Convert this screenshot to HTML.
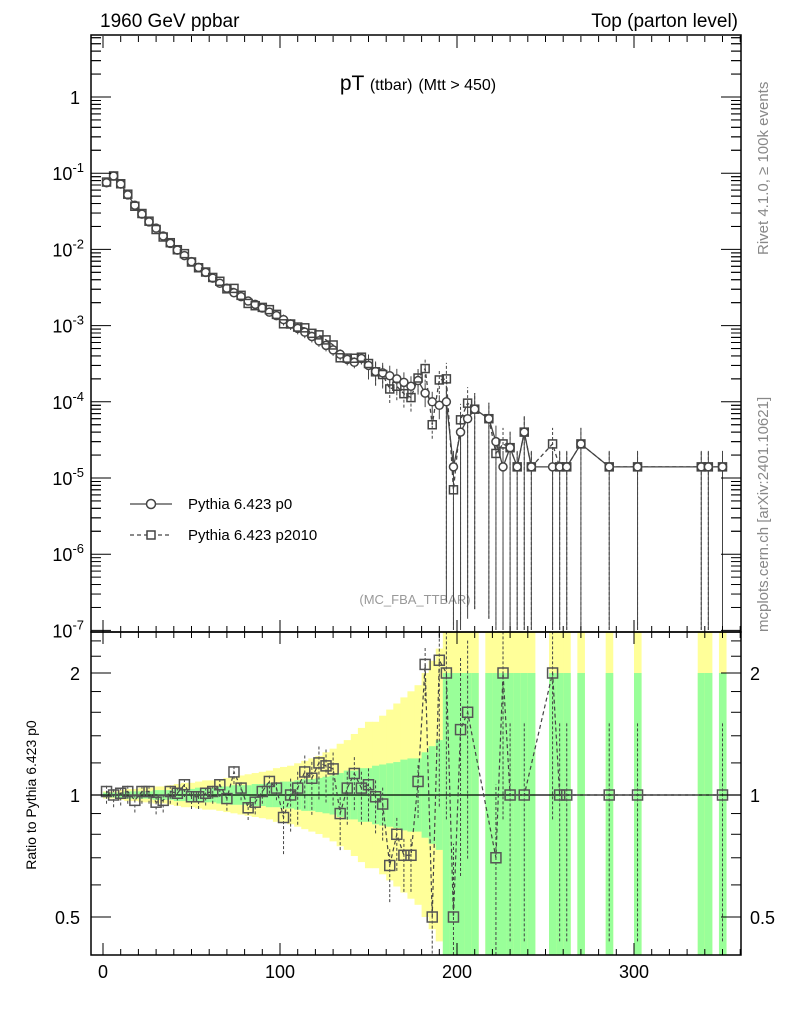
<!DOCTYPE html>
<html><head><meta charset="utf-8"><style>
body{margin:0;background:#fff;font-family:"Liberation Sans",sans-serif}
svg text{font-family:"Liberation Sans",sans-serif}
</style></head><body>
<svg id="c" width="786" height="1024" xmlns="http://www.w3.org/2000/svg">
<text x="100" y="27" font-size="19">1960 GeV ppbar</text>
<text x="738" y="27" font-size="19" text-anchor="end">Top (parton level)</text>
<text x="418" y="90" font-size="21" text-anchor="middle">pT <tspan font-size="16">(ttbar)</tspan> <tspan font-size="16">(Mtt &gt; 450)</tspan></text>
<text transform="translate(768,255) rotate(-90)" font-size="15" fill="#888">Rivet 4.1.0, ≥ 100k events</text>
<text transform="translate(768,632) rotate(-90)" font-size="15" fill="#888">mcplots.cern.ch [arXiv:2401.10621]</text>
<text transform="translate(36,795) rotate(-90)" font-size="14" text-anchor="middle">Ratio to Pythia 6.423 p0</text>
<text x="415" y="604" font-size="13" fill="#999" text-anchor="middle">(MC_FBA_TTBAR)</text>
<g id="bands"></g><g id="marks"></g><g id="axes"></g>
<g>
<line x1="130" y1="504" x2="172" y2="504" stroke="#444" stroke-width="1.3"/><circle cx="151" cy="504" r="4.5" fill="#fff" stroke="#444" stroke-width="1.5"/>
<text x="188" y="509" font-size="15">Pythia 6.423 p0</text>
<line x1="130" y1="535" x2="172" y2="535" stroke="#444" stroke-width="1.3" stroke-dasharray="4,3"/><rect x="147" y="531" width="8" height="8" fill="#fff" stroke="#444" stroke-width="1.5"/>
<text x="188" y="540" font-size="15">Pythia 6.423 p2010</text>
</g>
</svg>
<script>
const xCenters=[2,6,10,14,18,22,26,30,34,38,42,46,50,54,58,62,66,70,74,78,82,86,90,94,98,102,106,110,114,118,122,126,130,134,138,142,146,150,154,158,162,166,170,174,178,182,186,190];
const p0Values=[0.075,0.092,0.072,0.052,0.038,0.029,0.023,0.019,0.015,0.012,0.0098,0.0083,0.0069,0.0058,0.005,0.0042,0.0036,0.0031,0.0027,0.0024,0.0021,0.0019,0.0017,0.0015,0.00135,0.0012,0.00105,0.00092,0.00082,0.00072,0.00063,0.00055,0.00048,0.00042,0.00036,0.00033,0.00037,0.0003,0.00025,0.00024,0.00022,0.0002,0.00018,0.00016,0.00019,0.00013,0.0001,0.00009];
const ratioValues=[1.02,1.0,1.01,1.02,0.97,1.02,1.02,0.96,0.97,1.02,1.01,1.06,0.99,0.99,1.01,1.02,1.06,0.98,1.14,1.04,0.93,0.96,1.02,1.08,1.04,0.88,1.0,1.04,1.14,1.1,1.2,1.18,1.16,0.9,1.04,1.13,1.04,1.06,0.99,0.95,0.67,0.8,0.71,0.71,1.08,2.1,0.5,2.15];
const tailX=[194,198,202,206,210,218,222,226,230,234,238,242,254,258,262,270,286,302,338,342,350];
const tailP0=[1e-4,1.4e-5,4e-5,6e-5,8e-5,6e-5,3e-5,1.4e-5,2.5e-5,1.4e-5,4e-5,1.4e-5,1.4e-5,1.4e-5,1.4e-5,2.8e-5,1.4e-5,1.4e-5,1.4e-5,1.4e-5,1.4e-5];
const tailRatio=[2.0,0.5,1.45,1.6,0,0,0.7,2.0,1.0,0,1.0,0,2.0,1.0,1.0,0,1.0,1.0,0,0,1.0];
const bandGreen=[0.02,0.02,0.02,0.03,0.03,0.03,0.03,0.04,0.04,0.04,0.05,0.05,0.05,0.06,0.06,0.06,0.07,0.07,0.08,0.08,0.08,0.09,0.09,0.1,0.1,0.11,0.11,0.12,0.13,0.13,0.14,0.15,0.16,0.18,0.2,0.2,0.22,0.22,0.24,0.25,0.26,0.27,0.29,0.3,0.3,0.35,0.4,0.45];
const bandYellow=[0.03,0.03,0.04,0.05,0.05,0.06,0.06,0.07,0.07,0.08,0.09,0.1,0.1,0.11,0.12,0.12,0.13,0.14,0.15,0.16,0.17,0.18,0.19,0.2,0.22,0.23,0.24,0.26,0.28,0.3,0.32,0.35,0.38,0.42,0.45,0.5,0.55,0.6,0.6,0.65,0.7,0.75,0.8,0.85,0.9,1.0,1.1,1.2];
const NS='http://www.w3.org/2000/svg';
const X=v=>103+v*1.77;
const Y=v=>97-Math.log10(v)*76.2;
const R=v=>Math.max(632,Math.min(955,795-Math.log2(v)*122));
function mk(t,a,p){const e=document.createElementNS(NS,t);for(const k in a)e.setAttribute(k,a[k]);p.appendChild(e);return e;}
const bands=document.getElementById('bands'),marks=document.getElementById('marks'),axes=document.getElementById('axes');
xCenters.forEach((x,i)=>{
 let e=mk('rect',{x:X(x-2),y:R(Math.pow(2,bandYellow[i])),width:1.77*4+0.5,height:R(Math.pow(2,-bandYellow[i]))-R(Math.pow(2,bandYellow[i])),fill:'#ffff99'},bands);
 
 
 e=mk('rect',{x:X(x-2),y:R(Math.pow(2,bandGreen[i])),width:1.77*4+0.5,height:R(Math.pow(2,-bandGreen[i]))-R(Math.pow(2,bandGreen[i])),fill:'#99ff99'},bands);
 
 
});
tailX.forEach((x,i)=>{
 let e=mk('rect',{x:X(x-2),y:632,width:1.77*4+0.5,height:323,fill:'#ffff99'},bands);
 
 
 e=mk('rect',{x:X(x-2),y:673,width:1.77*4+0.5,height:282,fill:'#99ff99'},bands);
 
 
});
const allX=xCenters.concat(tailX), allP0=p0Values.concat(tailP0);
const allR=ratioValues.concat(tailRatio);
let d0='',d1='';
allX.forEach((x,i)=>{d0+=(i?'L':'M')+X(x)+' '+Y(allP0[i]);});
const p2=[];allX.forEach((x,i)=>{const r=allR[i]>0?allR[i]:1;p2.push(allP0[i]*r);});
allX.forEach((x,i)=>{d1+=(i?'L':'M')+X(x)+' '+Y(p2[i]);});
let e=mk('path',{d:d0,fill:'none',stroke:'#444','stroke-width':1.3},marks);


e=mk('path',{d:d1,fill:'none',stroke:'#444','stroke-width':1.3,'stroke-dasharray':'4,3'},marks);


allX.forEach((x,i)=>{
 const lo=x<100?2:x<150?6:x<192?14:200, hi=x<100?2:x<150?5:x<192?10:16;
 mk('line',{x1:X(x),x2:X(x),y1:Math.min(630,Y(allP0[i])+lo),y2:Y(allP0[i])-hi,stroke:'#444'},marks);
 if(x>=150)mk('line',{x1:X(x),x2:X(x),y1:Math.min(630,Y(p2[i])+lo),y2:Y(p2[i])-hi,stroke:'#444','stroke-dasharray':'3,2'},marks);
 let c=mk('circle',{cx:X(x),cy:Y(allP0[i]),r:4,fill:'#fff',stroke:'#444','stroke-width':1.5},marks);
 
 
 let s=mk('rect',{x:X(x)-4,y:Y(p2[i])-4,width:8,height:8,fill:'none',stroke:'#444','stroke-width':1.5},marks);
 
 
});
mk('line',{x1:91,x2:741,y1:795,y2:795,stroke:'#000','stroke-width':1.3},marks);
let dr='';allX.forEach((x,i)=>{if(allR[i]>0)dr+=(dr?'L':'M')+X(x)+' '+R(allR[i]);});
e=mk('path',{d:dr,fill:'none',stroke:'#444','stroke-width':1.2,'stroke-dasharray':'4,3'},marks);


allX.forEach((x,i)=>{if(!(allR[i]>0))return;
 const u=x<100?0.05:x<190?0.15:0.6;
 mk('line',{x1:X(x),x2:X(x),y1:R(allR[i]*Math.pow(2,-u*2)),y2:R(allR[i]*Math.pow(2,u)),stroke:'#444','stroke-dasharray':'3,2'},marks);
 let s=mk('rect',{x:X(x)-5,y:R(allR[i])-5,width:10,height:10,fill:'none',stroke:'#555','stroke-width':1.5},marks);
 
 
});
[[35,597],[632,323]].forEach(([y,h])=>{mk('rect',{x:91,y:y,width:650,height:h,fill:'none',stroke:'#000','stroke-width':1.5},axes);});
const xt=[0,100,200,300];
for(let v=0;v<=360;v+=10){const big=v%100==0;[[632,36],[955,632]].forEach(([b,t])=>{mk('line',{x1:X(v),x2:X(v),y1:b,y2:b-(big?12:6),stroke:'#000'},axes);mk('line',{x1:X(v),x2:X(v),y1:t,y2:t+(big?12:6),stroke:'#000'},axes);});}
xt.forEach(v=>{let t=mk('text',{x:X(v),y:978,'font-size':18,'text-anchor':'middle'},axes);t.textContent=v;});
const yExp=[0,-1,-2,-3,-4,-5,-6,-7];
yExp.forEach(ex=>{
 for(let m=1;m<10;m++){const v=m*Math.pow(10,ex);const y=Y(v);if(y<36||y>631)continue;const L=m==1?20:10;
  mk('line',{x1:91,x2:91+L,y1:y,y2:y,stroke:'#000'},axes);mk('line',{x1:741,x2:741-L,y1:y,y2:y,stroke:'#000'},axes);}
 for(let m=2;m<10;m++){const v=m*Math.pow(10,ex+1);const y=Y(v);if(y<36||y>631)continue;mk('line',{x1:91,x2:101,y1:y,y2:y,stroke:'#000'},axes);mk('line',{x1:741,x2:731,y1:y,y2:y,stroke:'#000'},axes);}
 let t=mk('text',{x:ex==0?80:84,y:Y(Math.pow(10,ex))+7,'font-size':18,'text-anchor':'end'},axes);
 
 
 if(ex==0)t.textContent='1';else t.innerHTML='10<tspan dy="-8" font-size="13">'+ex+'</tspan>';
});
const rt=[0.5,1,2];
[0.4,0.5,0.6,0.7,0.8,0.9,1,1.2,1.4,1.6,1.8,2,2.2,2.4].forEach(v=>{const big=rt.includes(v);mk('line',{x1:91,x2:91+(big?20:10),y1:R(v),y2:R(v),stroke:'#000'},axes);mk('line',{x1:741,x2:741-(big?20:10),y1:R(v),y2:R(v),stroke:'#000'},axes);});
rt.forEach(v=>{let t=mk('text',{x:80,y:R(v)+7,'font-size':18,'text-anchor':'end'},axes);t.textContent=v;
 t=mk('text',{x:750,y:R(v)+7,'font-size':18},axes);t.textContent=v;});
</script>
</body></html>
